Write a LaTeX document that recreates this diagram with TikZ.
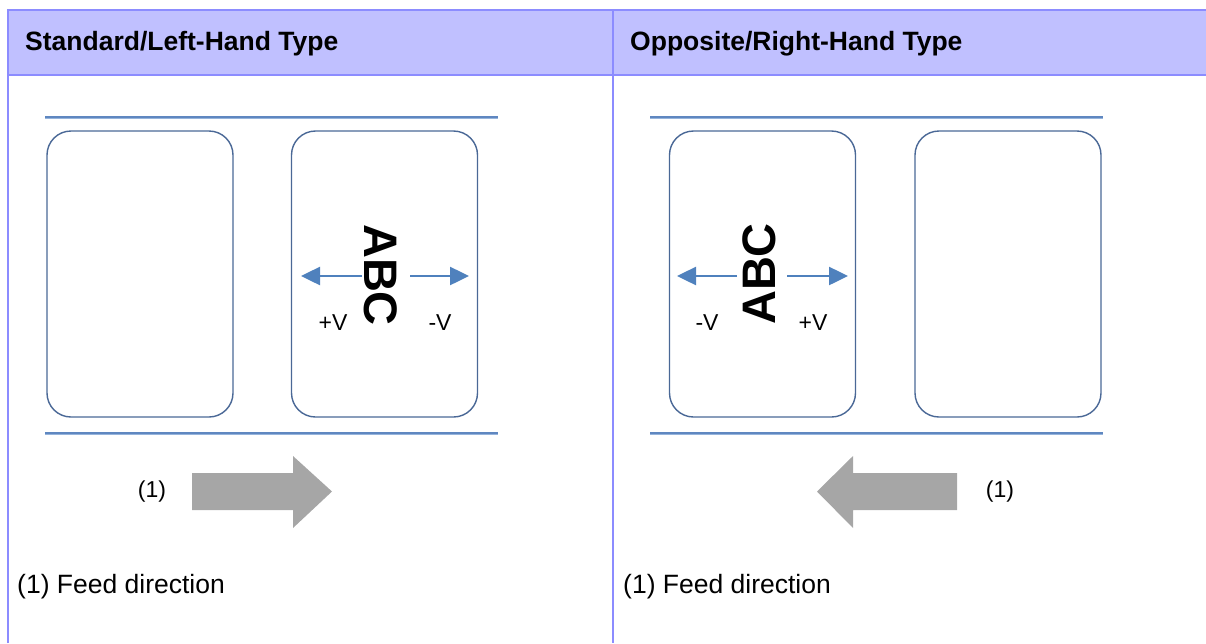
\documentclass[tikz,border=0pt]{standalone}
\usepackage{fontspec}
\setmainfont{Liberation Sans}
\usetikzlibrary{arrows.meta}
\definecolor{tblborder}{RGB}{140,140,255}
\definecolor{hdrfill}{RGB}{192,192,255}
\definecolor{webline}{RGB}{95,135,192}
\definecolor{weblight}{RGB}{150,180,220}
\definecolor{labelline}{RGB}{74,104,150}
\definecolor{vblue}{RGB}{79,129,189}
\definecolor{feedgray}{RGB}{166,166,166}
\tikzset{
  hdr/.style={anchor=base west, inner sep=0, font=\fontsize{26.5}{30}\selectfont\bfseries},
  captext/.style={anchor=base west, inner sep=0, font=\fontsize{26.5}{30}\selectfont},
  web/.style={draw=webline, line width=2.2},
  weblo/.style={draw=weblight, line width=1.2},
  labelbox/.style={draw=labelline, line width=1.4, rounded corners=24, minimum width=186, minimum height=286, inner sep=0},
  abc/.style={inner sep=0, font=\fontsize{47}{50}\selectfont\bfseries},
  vlab/.style={inner sep=0, font=\fontsize{23}{26}\selectfont},
  varrow/.style={draw=vblue, line width=2.5, -{Triangle[length=19,width=18]}},
  feed/.style={fill=feedgray, draw=none},
}
\begin{document}
\begin{tikzpicture}[x=1pt,y=-1pt]
\useasboundingbox (0,0) rectangle (1206,643);
% table
\fill[hdrfill] (8,10) rectangle (1206,75);
\draw[tblborder, line width=2] (8,643) -- (8,10) -- (1206,10);
\draw[tblborder, line width=1.5] (8,75) -- (1206,75);
\draw[tblborder, line width=2] (613,10) -- (613,643);
\node[hdr] (h1) at (25,50) {Standard/Left-Hand Type};
\node[hdr] (h2) at (630,50) {Opposite/Right-Hand Type};
% left panel
\draw[weblo] (45,118.8) -- (498,118.8);
\draw[web] (45,117) -- (498,117);
\draw[weblo] (45,434.8) -- (498,434.8);
\draw[web] (45,433) -- (498,433);
\node[labelbox] (l1) at (140,274) {};
\node[labelbox] (l2) at (384.5,274) {};
\node[abc, rotate=-90] (abcL) at (381,275) {ABC};
\coordinate (lla) at (362,276);
\coordinate (llb) at (301,276);
\coordinate (lra) at (410,276);
\coordinate (lrb) at (469,276);
\draw[varrow] (lla) -- (llb);
\draw[varrow] (lra) -- (lrb);
\node[vlab] (lpv) at (333,323) {+V};
\node[vlab] (lmv) at (440,323) {-V};
\fill[feed] (192,473) -- (293,473) -- (293,456) -- (332,491.5) -- (293,528) -- (293,510) -- (192,510) -- cycle;
\node[vlab] (lone) at (152,492) {(1)};
\node[captext] (lcap) at (17,593) {(1) Feed direction};
% right panel
\draw[weblo] (650,118.8) -- (1103,118.8);
\draw[web] (650,117) -- (1103,117);
\draw[weblo] (650,434.8) -- (1103,434.8);
\draw[web] (650,433) -- (1103,433);
\node[labelbox] (r1) at (762.5,274) {};
\node[labelbox] (r2) at (1008,274) {};
\node[abc, rotate=90] (abcR) at (759,274) {ABC};
\coordinate (rla) at (737,276);
\coordinate (rlb) at (677,276);
\coordinate (rra) at (787,276);
\coordinate (rrb) at (848,276);
\draw[varrow] (rla) -- (rlb);
\draw[varrow] (rra) -- (rrb);
\node[vlab] (rmv) at (707,323) {-V};
\node[vlab] (rpv) at (813,323) {+V};
\fill[feed] (957,473) -- (853,473) -- (853,456) -- (817,491.5) -- (853,528) -- (853,510) -- (957,510) -- cycle;
\node[vlab] (rone) at (1000,492) {(1)};
\node[captext] (rcap) at (623,593) {(1) Feed direction};
\end{tikzpicture}
\end{document}
